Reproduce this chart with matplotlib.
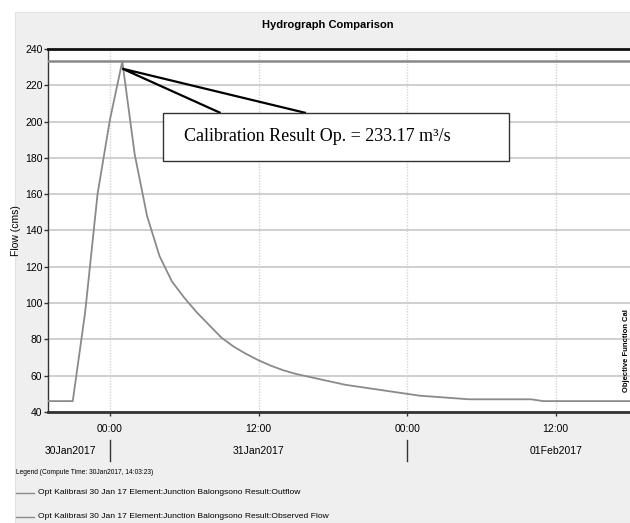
import matplotlib
matplotlib.use("Agg")
import matplotlib.pyplot as plt
from matplotlib.patches import Rectangle, Polygon

# hours relative to 30Jan2017 00:00
hours = list(range(-5, 43))
outflow = [46, 46, 46, 95, 160, 201, 233.17, 182, 148, 126,
           112, 103, 95, 88, 81, 76, 72, 68.5, 65.5, 63,
           61, 59.5, 58, 56.5, 55, 54, 53, 52, 51, 50,
           49, 48.5, 48, 47.5, 47, 47, 47, 47, 47, 47,
           46, 46, 46, 46, 46, 46, 46, 46]
observed_peak = 233.17

time_ticks = [0, 12, 24, 36]
time_labels = ["00:00", "12:00", "00:00", "12:00"]
day_pos = [-3.2, 12, 36]
day_labels = ["30Jan2017", "31Jan2017", "01Feb2017"]
day_breaks = [0, 24]

legend_title = "Legend (Compute Time: 30Jan2017, 14:03:23)"
series_names = ["Opt Kalibrasi 30 Jan 17 Element:Junction Balongsono Result:Outflow",
                "Opt Kalibrasi 30 Jan 17 Element:Junction Balongsono Result:Observed Flow"]

W, H = 630, 523
plt.rcParams["font.family"] = ["Liberation Sans Narrow", "Liberation Sans", "DejaVu Sans"]

fig = plt.figure(figsize=(W / 100, H / 100), dpi=100)
fig.patch.set_facecolor("white")
fig.patches.append(Rectangle((15 / W, 0), 1, (H - 12) / H, transform=fig.transFigure,
                             facecolor="#efefef", edgecolor="#e2e2e2", lw=0.8, zorder=-5))

ax = fig.add_axes([48 / W, (H - 412) / H, 582 / W, 363 / H])
ax.set_facecolor("white")

ax.plot(hours, outflow, color="#8a8a8a", lw=1.3, zorder=3)
ax.axhline(observed_peak, color="#888888", lw=1.8, zorder=3)

ax.set_xlim(-5, 42)
ax.set_ylim(40, 240)
ax.set_yticks(range(40, 241, 20))
ax.set_xticks(time_ticks)
ax.set_xticklabels(time_labels)
ax.tick_params(axis="y", labelsize=7.5, length=3, width=1, color="#333333", pad=1)
ax.tick_params(axis="x", labelsize=7.5, length=3, width=1, color="#333333", pad=6)

ax.grid(axis="y", color="#cfcfcf", lw=1.4)
ax.grid(axis="x", color="#d4d4d4", lw=1, ls=(0, (1, 1)))
ax.set_axisbelow(True)

ax.spines["right"].set_visible(False)
ax.spines["top"].set_linewidth(2)
ax.spines["top"].set_color("#111111")
ax.spines["bottom"].set_linewidth(2)
ax.spines["bottom"].set_color("#333333")
ax.spines["left"].set_linewidth(1)
ax.spines["left"].set_color("#333333")

ax.set_ylabel("Flow (cms)", fontsize=7.5, labelpad=3)

# date row below the time labels
xdat = ax.get_xaxis_transform()
for pos, lab in zip(day_pos, day_labels):
    ax.text(pos, -0.108, lab, transform=xdat, ha="center", va="center", fontsize=7.5)
for b in day_breaks:
    ax.plot([b, b], [-0.077, -0.134], transform=xdat, color="#333333", lw=1, clip_on=False)

fig.text(328 / W, 1 - 25 / H, "Hydrograph Comparison", ha="center", va="center",
         fontsize=8, fontweight="bold")

# callout pointing at the simulated peak
box_l, box_r, box_b, box_t = 0.1976, 0.792, 0.6915, 0.8237
peak_i = outflow.index(max(outflow))
tip = ax.transAxes.inverted().transform(ax.transData.transform((hours[peak_i], max(outflow) - 4)))
wedge = Polygon([(0.2966, box_t), tuple(tip), (0.4433, box_t)], closed=False, fill=False,
                edgecolor="black", lw=1.6, transform=ax.transAxes, zorder=5, clip_on=False)
ax.add_patch(wedge)
ax.add_patch(Rectangle((box_l, box_b), box_r - box_l, box_t - box_b, transform=ax.transAxes,
                       facecolor="white", edgecolor="#333333", lw=1, zorder=6))
ax.text(box_l + 0.036, (box_b + box_t) / 2, f"Calibration Result Op. = {observed_peak} m\u00b3/s",
        transform=ax.transAxes, ha="left", va="center", fontsize=13,
        family=["Liberation Serif", "DejaVu Serif"], zorder=7)

fig.text(626 / W, 1 - 351 / H, "Objective Function Cal", rotation=90, ha="center", va="center",
         fontsize=5.5, fontweight="bold")

# legend block
fig.text(16 / W, 1 - 473 / H, legend_title, ha="left", va="center", fontsize=4.8)
for name, y in zip(series_names, [493, 517]):
    fig.lines.append(plt.Line2D([16 / W, 34 / W], [1 - y / H, 1 - y / H],
                                transform=fig.transFigure, color="#8a8a8a", lw=1))
    fig.text(38 / W, 1 - y / H, name, ha="left", va="center", fontsize=6.1)

fig.savefig("out.png", dpi=100)
